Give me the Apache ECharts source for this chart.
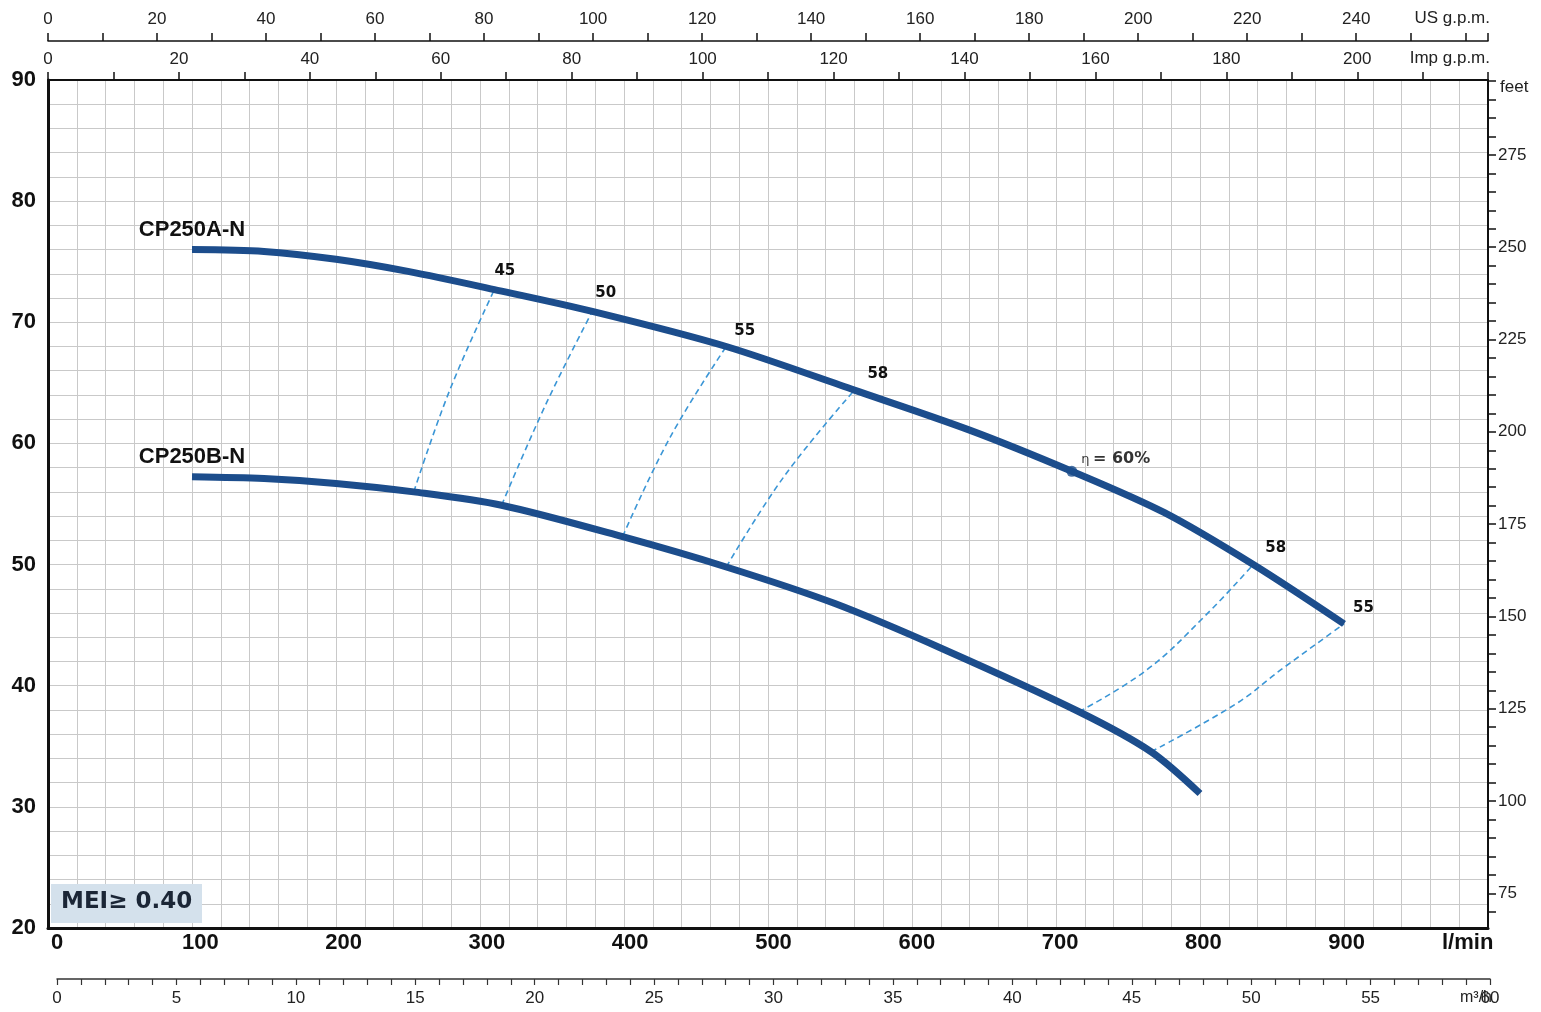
<!DOCTYPE html>
<html>
<head>
<meta charset="utf-8">
<script src="https://cdn.jsdelivr.net/npm/echarts@6/dist/echarts.min.js"></script>
<style>
html,body{margin:0;padding:0;background:#fff;}
#chart{width:1541px;height:1012px;}
</style>
</head>
<body>
<div id="chart"></div>
<script>
// ---- data (flow in l/min, head in m) ----
const flowA = [100,150,200,250,310,378,471,560,640,711,775,837,900];
const headA = [76.0,75.85,75.2,74.2,72.7,70.9,68.0,64.4,61.1,57.7,54.3,50.0,45.1];
const flowB = [100,150,200,254,315,399,471,546,623,716,766,800];
const headB = [57.25,57.1,56.7,56.0,54.9,52.3,49.8,46.8,42.95,37.85,34.55,31.1];

// iso-efficiency dashed lines
const eff45Flow = [254,279,310]; const eff45Head = [56.0,64.4,72.7];
const eff50Flow = [315,346,378]; const eff50Head = [54.9,63.3,70.9];
const eff55Flow = [399,432,471]; const eff55Head = [52.3,60.5,68.0];
const eff58Flow = [471,511,560]; const eff58Head = [49.8,57.25,64.4];
const eff58RFlow = [716,763,803,837]; const eff58RHead = [37.85,41.3,45.7,50.0];
const eff55RFlow = [766,825,856,900]; const eff55RHead = [34.55,38.5,41.3,45.1];
const bepFlow = [711]; const bepHead = [57.7];

// axis ranges / ticks
const headMin = 20, headMax = 90;
const lminMax = 1000;
const usGpmMax = 264.172;
const impGpmMax = 219.969;
const m3hMax = 60;
const feetMin = 65.617, feetMax = 295.276;
const feetTicks = [70,75,80,85,90,95,100,105,110,115,120,125,130,135,140,145,150,155,160,165,170,175,180,185,190,195,200,205,210,215,220,225,230,235,240,245,250,255,260,265,270,275,280,285,290,295];
const feetLabels = [75,100,125,150,175,200,225,250,275];

const SANS = '"Liberation Sans",Arial,Helvetica,sans-serif';
const BOLDF = '"DejaVu Sans",Verdana,sans-serif';
const CURVE = '#1c4d8c';
const DASH = '#3b96d6';
const INK = '#111111';

const zip = (a,b) => a.map((v,i)=>[v,b[i]]);

function effSeries(name, fx, fy, txt, off){
  const d = zip(fx, fy);
  const last = d.length-1;
  return {
    name, type:'line', smooth:0.4, symbol:'circle', symbolSize:0, showSymbol:true, z:3,
    itemStyle:{color:DASH, opacity:1},
    lineStyle:{color:DASH, width:1.6, type:[6,4]},
    data: d.map((p,i)=> i===last ? {value:p,
      label:{show:true, formatter:txt, position:'right', distance:0, offset:off,
        fontFamily:BOLDF, fontWeight:'bold', fontSize:15, color:INK}} : p)
  };
}

function pumpSeries(name, fx, fy){
  return {name, type:'line', smooth:0.3, symbol:'circle', symbolSize:0, showSymbol:true, z:5,
    itemStyle:{color:CURVE},
    lineStyle:{color:CURVE, width:7},
    data: zip(fx, fy).map((p,i)=> i===0 ? {value:p,
      label:{show:true, formatter:name, position:'top', distance:9,
        fontFamily:SANS, fontWeight:'bold', fontSize:22, color:INK}} : p)};
}

const chart = echarts.init(document.getElementById('chart'), null, {renderer:'canvas'});
const option = {
  animation:false,
  backgroundColor:'#ffffff',
  grid:[
    {left:48, right:53, top:80, bottom:84},
    {left:57, right:51, top:975, height:4}
  ],
  xAxis:[
    {gridIndex:0, type:'value', min:0, max:lminMax, interval:20, position:'bottom',
      axisLine:{show:true, onZero:false, lineStyle:{color:INK, width:3}},
      axisTick:{show:false}, axisLabel:{show:false},
      splitLine:{show:true, lineStyle:{color:'#c9c9c9', width:1}}},
    {gridIndex:0, type:'value', min:0, max:impGpmMax, interval:10, position:'top',
      axisLine:{show:true, onZero:false, lineStyle:{color:INK, width:2}},
      axisTick:{show:true, length:8, lineStyle:{color:INK, width:1.5}},
      axisLabel:{show:true, margin:12, fontFamily:SANS, fontSize:17, color:'#222',
        formatter:v=>{const r=Math.round(v); return (r%20===0 && r<=200)? String(r):'';}},
      splitLine:{show:false}},
    {gridIndex:0, type:'value', min:0, max:usGpmMax, interval:10, position:'top', offset:39,
      axisLine:{show:true, onZero:false, lineStyle:{color:INK, width:1.5}},
      axisTick:{show:true, length:8, lineStyle:{color:INK, width:1.5}},
      axisLabel:{show:true, margin:13, fontFamily:SANS, fontSize:17, color:'#222',
        formatter:v=>{const r=Math.round(v); return (r%20===0 && r<=240)? String(r):'';}},
      splitLine:{show:false}},
    {gridIndex:1, type:'value', min:0, max:m3hMax, interval:1, position:'bottom',
      axisLine:{show:true, onZero:false, lineStyle:{color:'#333', width:1.5}},
      axisTick:{show:true, length:6, lineStyle:{color:'#333', width:1.2}},
      axisLabel:{show:true, margin:11, fontFamily:SANS, fontSize:17, color:'#222',
        formatter:v=>{const r=Math.round(v); return r%5===0 ? String(r):'';}},
      splitLine:{show:false}},
    {gridIndex:1, type:'value', min:0, max:lminMax, interval:100, position:'top',
      axisLine:{show:false}, axisTick:{show:false},
      axisLabel:{show:true, margin:21, showMaxLabel:false, fontFamily:SANS, fontWeight:'bold', fontSize:22, color:INK},
      splitLine:{show:false}}
  ],
  yAxis:[
    {gridIndex:0, type:'value', min:headMin, max:headMax, interval:2, position:'left',
      axisLine:{show:true, onZero:false, lineStyle:{color:INK, width:3}},
      axisTick:{show:false},
      axisLabel:{show:true, margin:12, fontFamily:SANS, fontWeight:'bold', fontSize:22, color:INK,
        formatter:v=>{const r=Math.round(v); return r%10===0 ? String(r):'';}},
      splitLine:{show:true, lineStyle:{color:'#c9c9c9', width:1}}},
    {gridIndex:0, type:'value', min:feetMin, max:feetMax, position:'right',
      axisLine:{show:true, onZero:false, lineStyle:{color:INK, width:2}},
      axisTick:{show:true, length:8, customValues:feetTicks, lineStyle:{color:INK, width:1.5}},
      axisLabel:{show:true, margin:10, customValues:feetLabels, fontFamily:SANS, fontSize:17, color:'#222'},
      splitLine:{show:false}},
    {gridIndex:1, type:'value', min:0, max:1, show:false}
  ],
  series:[
    effSeries('eff45', eff45Flow, eff45Head, '45', [0,-18]),
    effSeries('eff50', eff50Flow, eff50Head, '50', [3,-18]),
    effSeries('eff55', eff55Flow, eff55Head, '55', [8,-15]),
    effSeries('eff58', eff58Flow, eff58Head, '58', [13,-16]),
    effSeries('eff58R', eff58RFlow, eff58RHead, '58', [12,-16]),
    effSeries('eff55R', eff55RFlow, eff55RHead, '55', [9,-16]),
    pumpSeries('CP250A-N', flowA, headA),
    pumpSeries('CP250B-N', flowB, headB),
    {name:'bep', type:'scatter', symbol:'circle', symbolSize:11, z:6,
      itemStyle:{color:CURVE},
      label:{show:true, position:'right', distance:4, offset:[0,-12],
        formatter:'{a|η} {b|= 60%}',
        rich:{a:{fontFamily:BOLDF, fontSize:13, color:'#000'},
              b:{fontFamily:BOLDF, fontWeight:'bold', fontSize:16, color:'#000'}}},
      data: zip(bepFlow, bepHead)}
  ],
  graphic:[
    {type:'text', right:51, top:10, style:{text:'US g.p.m.', font:'17px '+SANS, fill:'#222', textAlign:'right'}},
    {type:'text', right:51, top:50, style:{text:'Imp g.p.m.', font:'17px '+SANS, fill:'#222', textAlign:'right'}},
    {type:'text', left:1500, top:79, style:{text:'feet', font:'17px '+SANS, fill:'#222'}},
    {type:'text', left:1442, top:932, style:{text:'l/min', font:'bold 22px '+SANS, fill:INK}},
    {type:'text', left:1460, top:990, style:{text:'m³/h', font:'16px '+SANS, fill:'#222'}},
    {type:'rect', left:51, top:884, shape:{width:151, height:39}, style:{fill:'#d4e1ec'}, z:10},
    {type:'text', left:61, top:891, style:{text:'MEI≥ 0.40', font:'bold 23px '+BOLDF, fill:'#1b2636'}, z:11}
  ]
};
chart.setOption(option);
</script>
</body>
</html>
